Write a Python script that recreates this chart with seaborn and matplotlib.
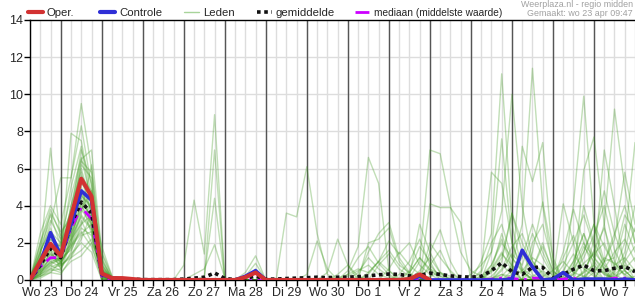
import numpy as np
import pandas as pd
import matplotlib
matplotlib.use("Agg")
import matplotlib.pyplot as plt
import seaborn as sns
from matplotlib.lines import Line2D

# ---------------- data ----------------
HOURS = list(range(6, 361, 6))          # forecast steps (hours after Wo 23 00:00)
DAY_LABELS = ["Wo 23", "Do 24", "Vr 25", "Za 26", "Zo 27", "Ma 28", "Di 29", "Wo 30",
              "Do 1", "Vr 2", "Za 3", "Zo 4", "Ma 5", "Di 6", "Wo 7"]
LABEL_HOURS = [12 + 24 * k for k in range(15)]
DAY_BOUNDS = [24 * k for k in range(1, 15)]

nan = np.nan
OPER = [0, 1.0, 1.95, 1.3, 3.4, 5.45, 4.5, 0.35, 0.1, 0.1, 0.05, 0,
        0, 0, 0, 0, 0, 0, 0, 0, 0, 0.15, 0.4, 0,
        0, 0, 0, 0, 0, 0, 0, 0, 0, 0, 0, 0,
        0, 0.05, 0.3, 0, nan, nan, nan, nan, nan, nan, nan, nan,
        nan, nan, nan, nan, nan, nan, nan, nan, nan, nan, nan, nan]
CONTROLE = [0, 0.9, 2.55, 1.3, 3.0, 4.8, 4.3, 0.3, 0.1, 0.05, 0, 0,
            0, 0, 0, 0, 0, 0, 0, 0, 0, 0.2, 0.5, 0,
            0, 0, 0, 0, 0, 0, 0, 0, 0, 0, 0, 0,
            0, 0, 0.2, 0, 0, 0, 0, 0, 0, 0, 0, 0.05,
            1.6, 0.7, 0, 0.05, 0.4, 0, 0.05, 0.05, 0.05, 0, 0.05, 0]
GEMIDDELDE = [0, 0.8, 1.7, 1.2, 3.0, 4.2, 3.6, 0.3, 0.1, 0.05, 0.05, 0.02,
              0.02, 0.02, 0.02, 0.05, 0.1, 0.15, 0.38, 0.08, 0.02, 0.1, 0.2, 0.05,
              0.05, 0.08, 0.1, 0.12, 0.15, 0.12, 0.15, 0.15, 0.18, 0.22, 0.28, 0.32,
              0.3, 0.22, 0.25, 0.37, 0.3, 0.22, 0.18, 0.15, 0.2, 0.5, 0.93, 0.45,
              0.3, 0.68, 0.68, 0.1, 0.3, 0.58, 0.8, 0.5, 0.5, 0.63, 0.72, 0.45]
MEDIAAN = [0, 0.7, 1.2, 1.2, 2.8, 3.9, 3.3, 0.2, 0, 0, 0, 0,
           0, 0, 0, 0, 0, 0, 0, 0, 0, 0, 0, 0,
           0, 0, 0, 0, 0, 0, 0, 0, 0, 0, 0, 0,
           0, 0, 0, 0, 0, 0, 0, 0, 0, 0.05, 0.1, 0.1,
           0, 0.1, 0.1, 0, 0.05, 0.1, 0, 0, 0, 0.1, 0.1, 0]

# ensemble members, values in tenths of mm
LEDEN_TIENDEN = [
    [0,12,71,20,35,60,40,5,1,0,0,0, 0,0,0,0,0,0,0,0,0,0,0,0, 0,0,0,0,0,0,0,2,5,8,3,1, 0,0,2,6,3,1,0,0,2,5,14,8, 3,6,20,4,2,10,25,12,6,15,22,10],
    [0,25,40,30,55,95,60,10,1,0,0,0, 0,0,0,8,43,14,89,0,0,0,0,0, 0,0,0,0,0,0,0,0,0,0,0,0, 0,0,0,0,0,0,0,0,0,2,8,3, 0,2,5,1,0,0,4,8,3,1,0,2],
    [0,15,30,55,55,83,50,8,0,0,0,0, 0,0,0,0,0,0,0,0,0,0,0,0, 0,0,0,0,0,0,1,3,6,4,10,16, 8,4,12,5,2,0,0,3,8,15,37,100, 40,10,3,0,0,6,15,30,18,8,12,5],
    [0,8,20,10,79,75,45,3,0,0,0,0, 0,0,0,0,0,1,70,0,0,0,0,0, 0,0,0,0,0,0,0,0,0,0,0,0, 0,0,0,2,4,2,0,0,0,1,3,2, 5,12,8,2,0,3,9,14,20,7,3,6],
    [0,5,12,8,40,65,70,15,2,0,0,0, 0,0,0,0,0,2,44,0,0,0,0,0, 0,0,0,0,0,0,0,0,0,0,0,0, 0,1,10,70,68,40,15,5,2,0,0,0, 0,0,2,5,10,4,2,0,0,3,8,4],
    [0,10,25,15,30,55,35,2,0,0,0,0, 0,0,0,0,3,6,19,1,0,0,0,0, 0,0,0,0,0,0,0,0,0,0,0,0, 0,0,0,0,0,0,0,0,10,25,111,30, 5,0,0,0,0,0,2,6,4,0,0,0],
    [0,3,8,12,25,45,40,5,1,0,0,0, 0,0,0,0,0,0,0,0,0,4,13,0, 0,0,0,0,0,0,0,0,0,0,0,0, 0,0,0,0,0,0,0,0,0,15,76,20, 4,1,0,0,5,14,6,2,0,0,10,18],
    [0,20,35,18,28,50,30,0,0,0,0,0, 0,0,0,0,0,0,0,0,0,2,9,0, 0,0,0,0,0,0,0,0,0,0,0,0, 0,0,0,0,0,0,0,0,5,58,52,20, 6,2,0,0,0,0,0,4,12,9,3,0],
    [0,6,15,9,20,38,48,12,0,0,0,0, 0,0,0,0,0,0,0,0,0,0,6,0, 0,0,0,0,0,0,0,0,0,0,0,0, 0,0,0,0,0,0,0,0,0,4,12,36, 20,8,2,0,0,0,0,0,0,0,0,0],
    [0,2,5,6,15,30,42,18,2,0,0,0, 0,0,0,0,0,0,0,0,0,0,4,0, 0,0,0,0,0,0,0,0,0,0,0,0, 0,0,0,0,0,0,0,0,0,0,2,8, 30,114,40,5,0,0,0,0,0,0,0,0],
    [0,12,18,14,32,62,55,4,0,0,0,0, 0,0,0,0,0,0,0,0,0,0,0,0, 0,36,34,61,25,3,0,0,0,0,0,0, 0,0,0,0,0,0,0,0,0,0,0,3, 72,53,74,10,0,0,0,0,0,2,5,0],
    [0,4,9,11,22,42,25,1,0,0,0,0, 0,0,0,0,0,0,0,0,0,0,0,0, 0,0,0,0,0,0,0,5,18,66,52,5, 1,0,0,0,0,0,0,0,0,0,0,0, 0,20,30,8,0,0,0,0,0,0,0,0],
    [0,8,22,16,36,70,52,6,1,0,0,0, 0,0,0,0,0,0,0,0,0,0,0,0, 0,0,0,0,0,0,0,0,2,15,25,31, 12,4,0,0,0,0,0,0,0,0,0,0, 0,0,0,0,41,20,0,0,0,0,0,0],
    [0,1,4,10,18,25,30,3,0,0,0,0, 0,0,0,0,0,0,0,0,0,0,0,0, 0,0,0,0,0,0,0,0,0,20,22,28, 10,3,0,0,0,0,0,0,0,0,0,0, 0,0,0,0,0,41,99,30,5,0,0,0],
    [0,15,28,13,26,48,38,2,0,0,0,0, 0,0,0,0,0,0,0,0,0,0,0,0, 0,0,0,3,21,6,0,0,0,0,0,0, 0,0,0,0,0,0,0,0,0,0,0,0, 0,0,0,0,0,0,59,77,30,0,0,0],
    [0,5,10,7,14,20,15,0,0,0,0,0, 0,0,0,0,0,0,0,0,0,0,0,0, 0,0,0,0,0,4,22,8,0,0,0,0, 0,0,0,0,0,0,0,0,0,0,0,0, 0,0,0,0,0,0,0,8,70,40,5,0],
    [0,9,16,12,40,58,36,3,0,0,0,0, 0,0,0,0,0,0,0,0,0,0,0,0, 0,0,0,0,0,0,0,0,0,0,0,0, 0,2,30,15,4,0,0,0,0,0,0,0, 0,0,0,0,0,0,0,10,30,92,50,20],
    [0,3,7,9,18,35,28,2,0,0,0,0, 0,0,0,0,0,0,0,0,0,0,0,0, 0,0,0,0,0,0,0,0,0,0,0,0, 0,0,0,41,39,39,31,0,0,0,0,0, 0,0,0,0,0,0,0,0,10,22,58,30],
    [0,18,32,22,45,66,42,4,0,0,0,0, 0,0,0,0,0,0,0,0,0,0,0,0, 0,0,0,0,0,0,0,0,0,0,0,0, 0,0,0,15,27,10,0,0,0,0,0,0, 0,0,0,0,0,0,0,0,0,5,20,74],
    [0,7,14,8,12,16,22,5,0,0,0,0, 0,0,0,0,0,0,0,0,0,0,0,0, 0,0,0,0,0,0,0,0,0,3,10,21, 14,20,8,3,0,0,0,0,0,0,6,18, 25,10,4,0,8,20,35,18,6,0,0,0],
    [0,11,24,17,30,44,33,1,0,0,0,0, 0,0,0,0,0,0,0,0,0,0,0,0, 0,0,0,0,0,0,0,0,4,12,6,2, 0,5,18,10,0,0,0,0,4,20,30,12, 5,0,0,0,0,3,12,24,40,16,5,0],
    [0,2,6,4,10,13,20,8,1,0,0,0, 0,0,0,0,0,0,0,0,0,0,0,0, 0,0,0,0,0,0,0,0,0,0,0,0, 3,10,22,8,2,0,0,0,0,0,0,5, 12,30,15,3,0,4,18,10,3,0,6,12],
    [0,14,36,26,33,52,46,6,0,0,0,0, 0,0,0,0,0,0,0,0,0,0,0,0, 0,0,0,0,0,0,0,0,0,0,8,14, 6,2,0,0,0,0,0,0,0,0,10,36, 15,3,0,0,0,0,5,15,8,3,0,0],
    [0,6,11,14,24,40,31,2,0,0,0,0, 0,0,0,0,0,0,0,0,0,0,0,0, 0,0,0,0,0,0,0,0,0,0,0,0, 0,0,0,20,12,5,0,0,0,5,25,8, 0,0,0,0,15,38,20,5,0,8,30,15],
    [0,4,8,5,20,36,62,14,1,0,0,0, 0,0,0,0,0,0,0,0,0,0,0,0, 0,0,0,0,0,0,0,0,0,0,0,0, 0,0,5,12,4,0,0,0,0,0,0,0, 0,15,42,12,0,0,0,22,48,25,10,0],
    [0,10,20,12,16,28,24,1,0,0,0,0, 0,0,0,0,0,0,0,0,0,0,0,0, 0,0,0,0,0,0,0,3,12,18,9,3, 0,0,0,0,0,0,0,0,0,0,0,0, 0,0,0,0,0,0,0,0,0,0,0,0],
    [0,16,26,20,38,48,28,0,0,0,0,0, 0,0,0,0,0,0,0,0,0,0,0,0, 0,0,0,0,0,0,0,0,0,0,0,0, 0,0,0,0,0,0,0,0,2,8,20,12, 4,0,0,0,0,6,40,20,10,12,35,26],
    [0,3,13,15,22,30,35,9,0,0,0,0, 0,0,0,0,0,0,0,0,0,0,0,0, 0,0,0,0,0,0,0,0,0,0,0,6, 15,8,3,0,0,0,0,0,0,0,0,0, 0,0,0,0,0,0,0,0,0,0,0,0],
    [0,12,22,18,50,72,40,3,0,0,0,0, 0,0,0,0,0,0,0,0,0,0,0,0, 0,0,0,0,0,0,0,0,0,0,0,0, 0,0,0,0,0,0,0,0,0,0,0,0, 0,0,0,0,0,10,25,8,0,4,15,40],
    [0,7,18,11,27,54,44,5,0,0,0,0, 0,0,0,0,0,0,0,0,0,0,0,0, 0,0,0,0,0,0,0,0,0,0,0,0, 0,0,0,0,0,0,0,0,0,0,5,14, 8,25,12,2,0,0,4,16,28,10,2,0],
    [0,5,9,13,19,26,18,2,0,0,0,0, 0,0,0,0,0,0,0,0,0,0,0,0, 0,0,0,0,0,0,0,0,0,0,0,0, 0,0,0,0,0,0,0,0,0,0,3,0, 0,0,0,0,0,0,0,0,0,0,0,0],
    [0,20,38,24,36,56,48,7,1,0,0,0, 0,0,0,0,0,0,0,0,0,0,0,0, 0,0,0,0,0,0,0,0,0,0,0,0, 0,0,0,8,16,4,0,0,0,0,0,0, 0,0,0,0,0,0,0,0,0,0,0,0],
    [0,8,16,6,23,34,27,1,0,0,0,0, 0,0,0,0,0,0,0,0,0,0,0,0, 0,0,0,0,0,0,0,0,0,0,0,0, 0,0,0,0,0,0,0,0,0,6,15,5, 0,0,0,0,0,8,20,12,4,0,0,0],
    [0,2,4,3,12,22,36,11,1,0,0,0, 0,0,0,0,0,0,0,0,0,0,0,0, 0,0,0,0,0,0,0,0,0,0,0,0, 0,4,12,6,0,0,0,0,0,0,0,0, 0,6,18,5,0,0,0,0,0,0,0,0],
    [0,13,20,16,29,46,38,4,0,0,0,0, 0,0,0,0,0,0,0,0,0,0,0,0, 0,0,0,0,0,0,0,0,0,4,10,5, 0,0,0,0,0,0,0,0,0,0,0,0, 0,0,0,0,0,0,0,0,10,25,40,20],
    [0,6,14,10,17,32,20,0,0,0,0,0, 0,0,0,0,0,0,0,0,0,0,0,0, 0,0,0,0,0,0,0,0,0,0,0,0, 0,0,0,0,0,0,0,0,0,0,0,0, 0,0,0,0,0,0,0,0,0,0,0,0],
    [0,9,17,19,34,64,58,6,1,0,0,0, 0,0,0,0,0,0,0,0,0,0,0,0, 0,0,0,0,0,0,0,0,0,0,0,0, 0,0,0,0,0,0,0,0,0,8,22,6, 0,0,0,0,0,0,15,30,10,0,0,0],
    [0,4,10,12,25,38,30,3,0,0,0,0, 0,0,0,0,0,0,0,0,0,0,0,0, 0,0,0,0,0,0,3,8,2,0,0,0, 0,0,0,0,0,0,0,0,0,0,0,0, 0,0,0,0,0,0,0,0,0,0,12,28],
    [0,11,19,9,21,42,34,2,0,0,0,0, 0,0,0,0,0,0,0,0,0,0,0,0, 0,0,0,0,0,0,0,0,0,0,0,0, 0,0,0,0,0,0,0,0,0,0,0,0, 0,0,0,0,12,24,8,3,0,0,0,0],
    [0,3,6,8,13,24,26,4,0,0,0,0, 0,0,0,0,0,0,0,0,0,0,0,0, 0,0,0,0,0,0,0,0,0,0,0,0, 0,0,0,0,0,0,0,0,0,0,0,0, 0,0,0,0,0,0,0,0,0,0,0,0],
]

# ---------------- build tables ----------------
rows = []
for m, vals in enumerate(LEDEN_TIENDEN):
    for h, v in zip(HOURS, vals):
        rows.append((m, h, v / 10.0))
leden = pd.DataFrame(rows, columns=["lid", "uur", "mm"])

main = pd.DataFrame({"uur": HOURS, "oper": OPER, "controle": CONTROLE,
                     "gem": GEMIDDELDE, "med": MEDIAAN})

# ---------------- style ----------------
sns.set_theme(style="white")
plt.rcParams["font.family"] = ["Liberation Sans", "DejaVu Sans"]

C_OPER = "#d23232"
C_CTRL = "#2f2fd6"
C_LID = "#3f9a1f"
C_MED = "#cc00ff"

fig = plt.figure(figsize=(6.35, 3.0), dpi=100)
ax = fig.add_axes([30 / 635, 20 / 300, 605 / 635, 260 / 300])

# grid
for h in range(6, 361, 6):
    ax.axvline(h, color="#dddddd", lw=1, zorder=0)
for y in range(2, 14, 2):
    ax.axhline(y, color="#dddddd", lw=1, zorder=0)
for h in DAY_BOUNDS:
    ax.axvline(h, color="#555555", lw=1, zorder=1)

sns.lineplot(data=leden, x="uur", y="mm", units="lid", estimator=None,
             color=C_LID, alpha=0.32, lw=1, ax=ax, legend=False, zorder=2)

sns.lineplot(data=main, x="uur", y="med", color=C_MED, lw=2, ax=ax,
             linestyle=(0, (4, 2, 1, 2)), zorder=3)
sns.lineplot(data=main, x="uur", y="gem", color="#111111", lw=2.6, ax=ax,
             linestyle=(0, (1, 1)), zorder=4)
sns.lineplot(data=main, x="uur", y="controle", color=C_CTRL, lw=2.6, ax=ax, zorder=5)
sns.lineplot(data=main.dropna(subset=["oper"]), x="uur", y="oper", color=C_OPER,
             lw=3, ax=ax, zorder=6)

ax.set_xlim(6, 360)
ax.set_ylim(0, 14)
ax.set_xlabel("")
ax.set_ylabel("")
ax.set_yticks(range(0, 15, 2))
ax.set_xticks(LABEL_HOURS)
ax.set_xticklabels(DAY_LABELS)
ax.set_xticks(list(range(6, 361, 6)), minor=True)
ax.tick_params(axis="both", which="major", direction="out", length=4, width=1,
               color="black", labelsize=9, pad=1, bottom=True, left=True)
ax.tick_params(axis="x", which="minor", direction="out", length=4, width=1,
               color="black", bottom=True)
for s in ["left", "bottom", "top"]:
    ax.spines[s].set_color("black")
    ax.spines[s].set_linewidth(1)
ax.spines["right"].set_visible(False)

# legend: one entry per slot, positioned as in the reference
handles = [
    Line2D([], [], color=C_OPER, lw=3),
    Line2D([], [], color=C_CTRL, lw=3),
    Line2D([], [], color="#a8d49a", lw=1),
    Line2D([], [], color="#111111", lw=2.6, linestyle=(0, (1, 1))),
    Line2D([], [], color=C_MED, lw=2, linestyle=(0, (5, 1.5, 1, 1.5))),
]
labels = ["Oper.", "Controle", "Leden", "gemiddelde", "mediaan (middelste waarde)"]
slots = [28, 100, 184, 257, 355]
sizes = [8.2, 8.2, 8.2, 8.2, 7.3]
for hnd, lab, sx, fs in zip(handles, labels, slots, sizes):
    leg = fig.legend([hnd], [lab], loc="center left",
                     bbox_to_anchor=(sx / 635, 1 - 13 / 300),
                     frameon=False, fontsize=fs, handlelength=15 / fs * 72 / 100,
                     handletextpad=0.35, borderaxespad=0, borderpad=0)

fig.text(633 / 635, 1 - 4.5 / 300, "Weerplaza.nl - regio midden", ha="right", va="center",
         fontsize=6.4, color="#a0a0a0")
fig.text(633 / 635, 1 - 14 / 300, "Gemaakt: wo 23 apr 09:47", ha="right", va="center",
         fontsize=6.4, color="#a0a0a0")

fig.savefig("out.png", dpi=100)
